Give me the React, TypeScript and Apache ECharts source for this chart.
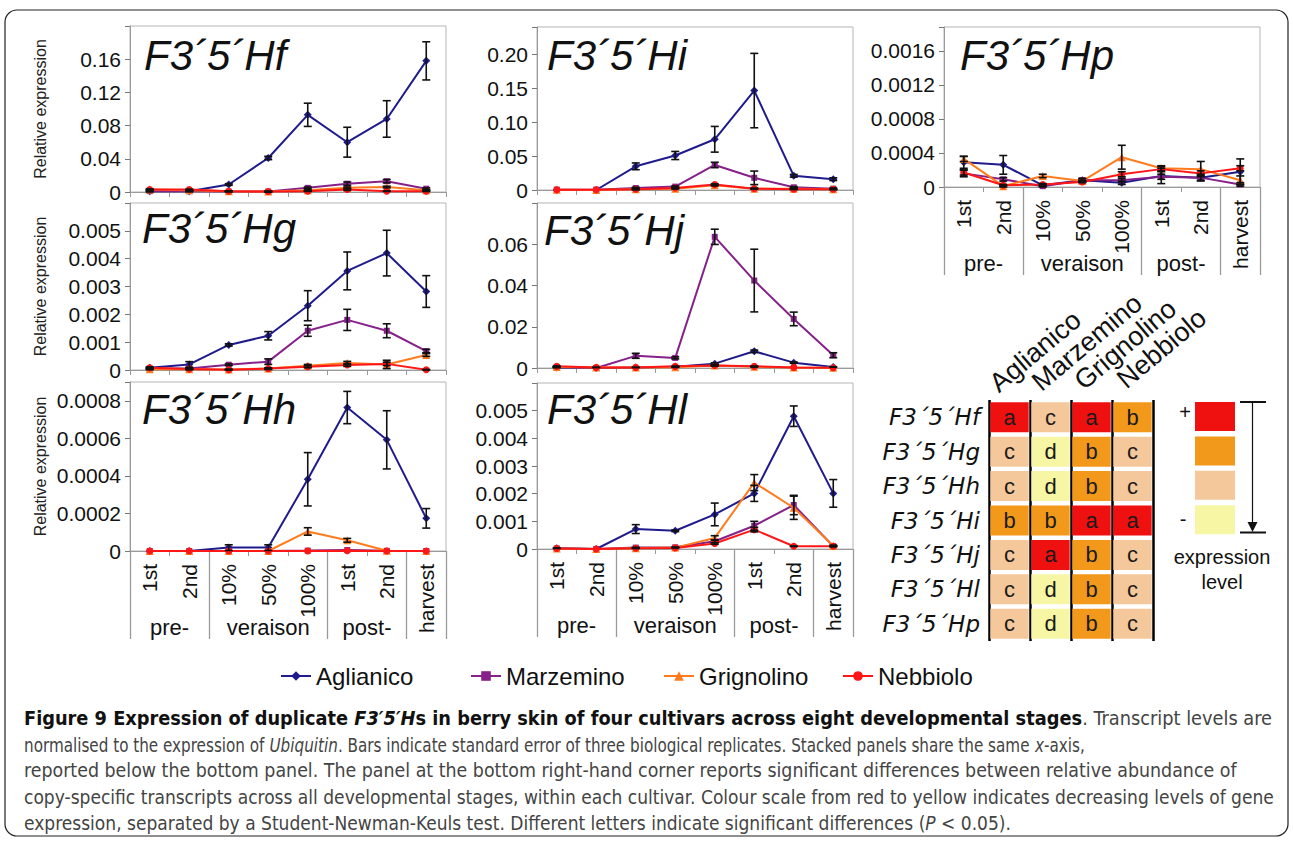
import React, { useEffect, useRef } from 'react';
import * as echarts from 'echarts';

// ---------------- categories ----------------
const STAGES = ['1st', '2nd', '10%', '50%', '100%', '1st', '2nd', 'harvest'];
const STAGE_GROUPS = ['pre-', 'veraison', 'post-', ''];
const GROUP_SIZES = [2, 3, 2, 1];
const CULTIVARS = ['Aglianico', 'Marzemino', 'Grignolino', 'Nebbiolo'];

// ---------------- F3'5'Hf ----------------
const HF_AGLIANICO = [0.0008, 0.001, 0.009, 0.041, 0.093, 0.06, 0.088, 0.158];
const HF_AGLIANICO_SE = [0.0006, 0.0006, 0.001, 0.002, 0.014, 0.018, 0.022, 0.023];
const HF_MARZEMINO = [0.001, 0.001, 0.0005, 0.0005, 0.005, 0.01, 0.013, 0.004];
const HF_MARZEMINO_SE = [0.0005, 0.0005, 0.0003, 0.0003, 0.001, 0.002, 0.002, 0.001];
const HF_GRIGNOLINO = [0.003, 0.002, 0.001, 0.0005, 0.002, 0.005, 0.006, 0.002];
const HF_GRIGNOLINO_SE = [0.0005, 0.0005, 0.0003, 0.0002, 0.0005, 0.001, 0.001, 0.0005];
const HF_NEBBIOLO = [0.003, 0.003, 0.001, 0.0005, 0.001, 0.003, 0.001, 0.001];
const HF_NEBBIOLO_SE = [0.0005, 0.0005, 0.0002, 0.0002, 0.0003, 0.001, 0.0003, 0.0003];
const HF_TICKS = ['0', '0.04', '0.08', '0.12', '0.16'];

// ---------------- F3'5'Hg ----------------
const HG_AGLIANICO = [0.00008, 0.0002, 0.0009, 0.00123, 0.00231, 0.00356, 0.0042, 0.00282];
const HG_AGLIANICO_SE = [0.00003, 0.0001, 0.00004, 0.00015, 0.00054, 0.00068, 0.00082, 0.00057];
const HG_MARZEMINO = [0.00005, 0.00005, 0.00019, 0.0003, 0.00141, 0.0018, 0.00141, 0.00068];
const HG_MARZEMINO_SE = [0.00002, 0.00002, 0.00003, 0.0001, 0.0002, 0.00038, 0.00025, 0.00006];
const HG_GRIGNOLINO = [0.00003, 0.00003, 0.00002, 0.00005, 0.00015, 0.00025, 0.0002, 0.00054];
const HG_GRIGNOLINO_SE = [0.00002, 0.00002, 0.00001, 0.00003, 0.00005, 0.00006, 0.00015, 0.00005];
const HG_NEBBIOLO = [0.00008, 0.00004, 0.00001, 0.00005, 0.00012, 0.00018, 0.00022, 0.00001];
const HG_NEBBIOLO_SE = [0.00002, 0.00002, 0.00001, 0.00002, 0.00004, 0.00005, 0.00006, 0.00001];
const HG_TICKS = ['0', '0.001', '0.002', '0.003', '0.004', '0.005'];

// ---------------- F3'5'Hh ----------------
const HH_AGLIANICO = [0, 0, 0.000018, 0.000018, 0.000382, 0.000764, 0.000592, 0.000174];
const HH_AGLIANICO_SE = [0, 0, 0.000015, 0.000015, 0.000142, 0.000086, 0.000155, 0.000052];
const HH_MARZEMINO = [0, 0, 0, 0, 0.000002, 0.000005, 0.000001, 0];
const HH_MARZEMINO_SE = [0, 0, 0, 0, 0, 0, 0, 0];
const HH_GRIGNOLINO = [0, 0, 0, 0, 0.000104, 0.000057, 0.000001, 0];
const HH_GRIGNOLINO_SE = [0, 0, 0, 0, 0.00002, 0.00001, 0, 0];
const HH_NEBBIOLO = [0, 0, 0, 0, 0, 0.000001, 0, 0];
const HH_NEBBIOLO_SE = [0, 0, 0, 0, 0, 0, 0, 0];
const HH_TICKS = ['0', '0.0002', '0.0004', '0.0006', '0.0008'];

// ---------------- F3'5'Hi ----------------
const HI_AGLIANICO = [0, 0, 0.035, 0.051, 0.075, 0.147, 0.021, 0.016];
const HI_AGLIANICO_SE = [0, 0, 0.005, 0.006, 0.019, 0.055, 0.002, 0.002];
const HI_MARZEMINO = [0.0005, 0.0005, 0.003, 0.005, 0.037, 0.018, 0.004, 0.002];
const HI_MARZEMINO_SE = [0, 0, 0.001, 0.001, 0.004, 0.01, 0.001, 0.001];
const HI_GRIGNOLINO = [0.0005, 0, 0.001, 0.002, 0.007, 0.002, 0.002, 0.001];
const HI_GRIGNOLINO_SE = [0, 0, 0.0005, 0.0005, 0.001, 0.0005, 0.0005, 0.0003];
const HI_NEBBIOLO = [0.0005, 0.0005, 0.001, 0.003, 0.008, 0.002, 0.001, 0.001];
const HI_NEBBIOLO_SE = [0, 0, 0.0005, 0.0005, 0.001, 0.0005, 0.0003, 0.0003];
const HI_TICKS = ['0', '0.05', '0.10', '0.15', '0.20'];

// ---------------- F3'5'Hj ----------------
const HJ_AGLIANICO = [0.0003, 0, 0.0003, 0.0006, 0.0021, 0.0081, 0.0026, 0.0005];
const HJ_AGLIANICO_SE = [0.0001, 0, 0.0001, 0.0001, 0.0004, 0.0006, 0.0003, 0.0001];
const HJ_MARZEMINO = [0.0005, 0, 0.0059, 0.0049, 0.0636, 0.0424, 0.0238, 0.0062];
const HJ_MARZEMINO_SE = [0.0002, 0, 0.0012, 0.0005, 0.0037, 0.0152, 0.0033, 0.0012];
const HJ_GRIGNOLINO = [0.0005, 0.0002, 0.0002, 0.0004, 0.0012, 0.0006, 0.0002, 0.0001];
const HJ_GRIGNOLINO_SE = [0.0001, 0, 0, 0.0001, 0.0002, 0.0001, 0, 0];
const HJ_NEBBIOLO = [0.0008, 0.0003, 0.0003, 0.0008, 0.0012, 0.0008, 0.0003, 0.0001];
const HJ_NEBBIOLO_SE = [0.0002, 0.0001, 0, 0.0001, 0.0002, 0.0001, 0, 0];
const HJ_TICKS = ['0', '0.02', '0.04', '0.06'];

// ---------------- F3'5'Hl ----------------
const HL_AGLIANICO = [0.00003, 0, 0.00072, 0.00066, 0.00125, 0.00201, 0.0048, 0.00201];
const HL_AGLIANICO_SE = [0.00001, 0, 0.00016, 0.00003, 0.00041, 0.00029, 0.00037, 0.0005];
const HL_MARZEMINO = [0.00002, 0, 0.00005, 0.00006, 0.00028, 0.00084, 0.00159, 0.0001];
const HL_MARZEMINO_SE = [0, 0, 0.00001, 0.00001, 0.00005, 0.00016, 0.00035, 0.00002];
const HL_GRIGNOLINO = [0.00002, 0, 0.00003, 0.00005, 0.0004, 0.0024, 0.00149, 0.00012];
const HL_GRIGNOLINO_SE = [0, 0, 0.00001, 0.00001, 0.00008, 0.00029, 0.00042, 0.00002];
const HL_NEBBIOLO = [0.00002, 0, 0.00003, 0.00004, 0.0002, 0.0007, 0.0001, 0.0001];
const HL_NEBBIOLO_SE = [0, 0, 0, 0, 0.00003, 0.00008, 0.00001, 0.00001];
const HL_TICKS = ['0', '0.001', '0.002', '0.003', '0.004', '0.005'];

// ---------------- F3'5'Hp ----------------
const HP_AGLIANICO = [0.00029, 0.00026, 0.00002, 0.00008, 0.00005, 0.00013, 0.00011, 0.00018];
const HP_AGLIANICO_SE = [0.00007, 0.00011, 0.00001, 0.00002, 0.00002, 0.00009, 0.00004, 0.00015];
const HP_MARZEMINO = [0.00016, 0.00009, 0.00001, 0.00008, 0.00008, 0.00012, 0.00011, 0.00003];
const HP_MARZEMINO_SE = [0.00004, 0.00002, 0.00001, 0.00002, 0.00002, 0.00003, 0.00003, 0.00002];
const HP_GRIGNOLINO = [0.00033, 0.00001, 0.00013, 0.00007, 0.00035, 0.00022, 0.00021, 0.00008];
const HP_GRIGNOLINO_SE = [0.00003, 0.00001, 0.00002, 0.00001, 0.00014, 0.00003, 0.00009, 0.00005];
const HP_NEBBIOLO = [0.00017, 0.00002, 0.00003, 0.00006, 0.00015, 0.00021, 0.00016, 0.00022];
const HP_NEBBIOLO_SE = [0.00003, 0.00001, 0.00001, 0.00001, 0.00003, 0.00003, 0.00003, 0.00003];
const HP_TICKS = ['0', '0.0004', '0.0008', '0.0012', '0.0016'];

// ---------------- significance table ----------------
const HEAT_GENES = ['F3´5´Hf', 'F3´5´Hg', 'F3´5´Hh', 'F3´5´Hi', 'F3´5´Hj', 'F3´5´Hl', 'F3´5´Hp'];
const HEAT_LETTERS = [
  ['a', 'c', 'a', 'b'],
  ['c', 'd', 'b', 'c'],
  ['c', 'd', 'b', 'c'],
  ['b', 'b', 'a', 'a'],
  ['c', 'a', 'b', 'c'],
  ['c', 'd', 'b', 'c'],
  ['c', 'd', 'b', 'c'],
];
const LEVELS = ['a', 'b', 'c', 'd'];

// ---------------- styles ----------------
const FONT = '"Liberation Sans", Arial, Helvetica, sans-serif';
const NARROW = '"Liberation Sans Narrow", "DejaVu Sans Condensed", "Liberation Sans", sans-serif';
const LINE_COLORS = ['#1f1b8c', '#86218a', '#ff7b1c', '#ff1616'];
const SYMBOLS = ['diamond', 'rect', 'triangle', 'circle'];
const SYMBOL_SIZES = [8, 6, 8, 7];
const LEVEL_COLORS: Record<string, string> = { a: '#ef1010', b: '#f2981a', c: '#f5c89c', d: '#f6f6a4' };
const AXIS_GRAY = '#9a9a9a';

const PANELS = [
  { title: 'F3´5´Hf', rect: [130, 26, 316, 166], max: 0.2, step: 0.04, ticks: HF_TICKS, yName: true, xLabels: false, titlePos: [144, 55],
    values: [HF_AGLIANICO, HF_MARZEMINO, HF_GRIGNOLINO, HF_NEBBIOLO], errors: [HF_AGLIANICO_SE, HF_MARZEMINO_SE, HF_GRIGNOLINO_SE, HF_NEBBIOLO_SE] },
  { title: 'F3´5´Hg', rect: [130, 203, 316, 167], max: 0.006, step: 0.001, ticks: HG_TICKS, yName: true, xLabels: false, titlePos: [142, 228],
    values: [HG_AGLIANICO, HG_MARZEMINO, HG_GRIGNOLINO, HG_NEBBIOLO], errors: [HG_AGLIANICO_SE, HG_MARZEMINO_SE, HG_GRIGNOLINO_SE, HG_NEBBIOLO_SE] },
  { title: 'F3´5´Hh', rect: [130, 382, 316, 169], max: 0.0009, step: 0.0002, ticks: HH_TICKS, yName: true, xLabels: true, titlePos: [142, 409],
    values: [HH_AGLIANICO, HH_MARZEMINO, HH_GRIGNOLINO, HH_NEBBIOLO], errors: [HH_AGLIANICO_SE, HH_MARZEMINO_SE, HH_GRIGNOLINO_SE, HH_NEBBIOLO_SE] },
  { title: 'F3´5´Hi', rect: [537, 27, 316, 163], max: 0.241, step: 0.05, ticks: HI_TICKS, yName: false, xLabels: false, titlePos: [547, 55],
    values: [HI_AGLIANICO, HI_MARZEMINO, HI_GRIGNOLINO, HI_NEBBIOLO], errors: [HI_AGLIANICO_SE, HI_MARZEMINO_SE, HI_GRIGNOLINO_SE, HI_NEBBIOLO_SE] },
  { title: 'F3´5´Hj', rect: [537, 203, 316, 165], max: 0.08, step: 0.02, ticks: HJ_TICKS, yName: false, xLabels: false, titlePos: [544, 230],
    values: [HJ_AGLIANICO, HJ_MARZEMINO, HJ_GRIGNOLINO, HJ_NEBBIOLO], errors: [HJ_AGLIANICO_SE, HJ_MARZEMINO_SE, HJ_GRIGNOLINO_SE, HJ_NEBBIOLO_SE] },
  { title: 'F3´5´Hl', rect: [537, 383, 316, 166], max: 0.006, step: 0.001, ticks: HL_TICKS, yName: false, xLabels: true, titlePos: [547, 409],
    values: [HL_AGLIANICO, HL_MARZEMINO, HL_GRIGNOLINO, HL_NEBBIOLO], errors: [HL_AGLIANICO_SE, HL_MARZEMINO_SE, HL_GRIGNOLINO_SE, HL_NEBBIOLO_SE] },
  { title: 'F3´5´Hp', rect: [944, 27, 316, 160], max: 0.00188, step: 0.0004, ticks: HP_TICKS, yName: false, xLabels: true, titlePos: [960, 55],
    values: [HP_AGLIANICO, HP_MARZEMINO, HP_GRIGNOLINO, HP_NEBBIOLO], errors: [HP_AGLIANICO_SE, HP_MARZEMINO_SE, HP_GRIGNOLINO_SE, HP_NEBBIOLO_SE] },
];

const HEAT_RECT = [989, 400, 164, 241];
const LEGEND_LEFTS = [280, 470, 663, 842];
const CAPTION_SCALE = [1.04, 0.89, 1.02, 1.0, 1.0];

const tickText = (v: number, step: number, labels: string[]) => {
  const k = Math.round(v / step);
  if (Math.abs(v - k * step) > step * 1e-6 || k < 0 || k >= labels.length) return '';
  return labels[k];
};

const errorRender = (params: any, api: any) => {
  const x = api.value(0);
  const lo = api.coord([x, api.value(1)]);
  const hi = api.coord([x, api.value(2)]);
  const cap = 4;
  const st = { stroke: '#111', lineWidth: 1.6 };
  return {
    type: 'group',
    children: [
      { type: 'line', shape: { x1: lo[0], y1: lo[1], x2: hi[0], y2: hi[1] }, style: st },
      { type: 'line', shape: { x1: lo[0] - cap, y1: lo[1], x2: lo[0] + cap, y2: lo[1] }, style: st },
      { type: 'line', shape: { x1: hi[0] - cap, y1: hi[1], x2: hi[0] + cap, y2: hi[1] }, style: st },
    ],
  };
};

function buildOption() {
  const grids: any[] = [];
  const xAxes: any[] = [];
  const yAxes: any[] = [];
  const series: any[] = [];
  const graphics: any[] = [];

  const bounds: number[] = [];
  GROUP_SIZES.reduce((acc, s) => { bounds.push(acc); return acc + s; }, 0);
  const centers = GROUP_SIZES.map((s, i) => bounds[i] + s / 2);

  PANELS.forEach((p, gi) => {
    const [l, t, w, h] = p.rect;
    grids.push({ left: l, top: t, width: w, height: h, show: true, borderColor: '#b5b5b5', borderWidth: 1, backgroundColor: 'transparent', containLabel: false, outerBoundsMode: 'none' });
    const mainX = xAxes.length;
    xAxes.push({
      type: 'category', gridIndex: gi, position: 'bottom', data: STAGES, boundaryGap: true,
      axisLine: { show: true, onZero: false, lineStyle: { color: AXIS_GRAY, width: 1 } },
      axisTick: { show: true, length: 5, interval: 0, lineStyle: { color: AXIS_GRAY } },
      axisLabel: { show: p.xLabels, interval: 0, rotate: 90, margin: 13, fontSize: 21, fontFamily: FONT, color: '#111' },
      splitLine: { show: false },
    });
    if (p.xLabels) {
      xAxes.push({
        type: 'category', gridIndex: gi, position: 'bottom', data: STAGES, boundaryGap: true,
        axisLine: { show: false }, axisLabel: { show: false }, splitLine: { show: false },
        axisTick: { show: true, length: 88, interval: (i: number) => bounds.includes(i), lineStyle: { color: AXIS_GRAY, width: 1.3 } },
      });
      xAxes.push({
        type: 'value', gridIndex: gi, position: 'bottom', min: 0, max: STAGES.length, interval: 0.5, offset: 57,
        axisLine: { show: false }, axisTick: { show: false }, splitLine: { show: false },
        axisLabel: {
          margin: 8, fontSize: 22, fontFamily: FONT, color: '#111', showMinLabel: true, showMaxLabel: true,
          formatter: (v: number) => { const k = centers.findIndex((c) => Math.abs(c - v) < 1e-6); return k >= 0 ? STAGE_GROUPS[k] : ''; },
        },
      });
    }
    yAxes.push({
      type: 'value', gridIndex: gi, position: 'left', min: 0, max: p.max, interval: p.step,
      axisLine: { show: true, lineStyle: { color: AXIS_GRAY, width: 1 } },
      axisTick: { show: true, length: 5, lineStyle: { color: '#777' } },
      splitLine: { show: false },
      axisLabel: { margin: 9, fontSize: 21, fontFamily: FONT, color: '#111', formatter: (v: number) => tickText(v, p.step, p.ticks) },
      name: p.yName ? 'Relative expression' : '', nameLocation: 'middle', nameRotate: 90, nameGap: 82,
      nameTextStyle: { fontSize: 16, fontFamily: FONT, color: '#222' },
    });

    CULTIVARS.forEach((c, ci) => {
      series.push({
        type: 'line', name: c, xAxisIndex: mainX, yAxisIndex: gi, data: p.values[ci],
        symbol: SYMBOLS[ci], symbolSize: SYMBOL_SIZES[ci], showAllSymbol: true,
        color: LINE_COLORS[ci], lineStyle: { color: LINE_COLORS[ci], width: 2 },
        itemStyle: { color: LINE_COLORS[ci] }, z: 3 + ci, silent: true,
      });
    });
    const errData: number[][] = [];
    p.values.forEach((vals, ci) => {
      vals.forEach((v, i) => {
        const e = p.errors[ci][i];
        if (e > 0) errData.push([i, v - e, v + e]);
      });
    });
    series.push({ type: 'custom', xAxisIndex: mainX, yAxisIndex: gi, data: errData, renderItem: errorRender, encode: { x: 0, y: [1, 2] }, z: 10, silent: true });

    graphics.push({
      type: 'text', x: p.titlePos[0], y: p.titlePos[1], z: 20,
      style: { text: p.title, font: `italic 42px ${FONT}`, fill: '#111', textAlign: 'left', textVerticalAlign: 'middle' },
    });
  });

  // ---- significance table ----
  const hgi = grids.length;
  const [hl, ht, hw, hh] = HEAT_RECT;
  grids.push({ left: hl, top: ht, width: hw, height: hh, show: false, containLabel: false, outerBoundsMode: 'none' });
  const hx = xAxes.length;
  xAxes.push({
    type: 'category', gridIndex: hgi, position: 'top', data: CULTIVARS,
    axisLine: { show: false }, axisTick: { show: false }, axisLabel: { show: false },
    splitLine: { show: true, interval: 0, lineStyle: { color: '#000', width: 2.5 } },
  });
  const hy = yAxes.length;
  yAxes.push({
    type: 'category', gridIndex: hgi, data: HEAT_GENES, inverse: true,
    axisLine: { show: false }, axisTick: { show: false }, splitLine: { show: false },
    axisLabel: { margin: 9, fontSize: 23, fontStyle: 'italic', fontFamily: '"DejaVu Sans", sans-serif', color: '#111' },
  });
  const cells: any[] = [];
  HEAT_LETTERS.forEach((row, r) => row.forEach((letter, c) => cells.push({ value: [c, r], letter })));
  series.push({
    type: 'custom', xAxisIndex: hx, yAxisIndex: hy, data: cells.map((d) => d.value), silent: true, z: 5,
    encode: { x: 0, y: 1 },
    renderItem: (params: any, api: any) => {
      const c = api.value(0);
      const r = api.value(1);
      const pt = api.coord([c, r]);
      const sz = api.size([1, 1]);
      const letter = cells[params.dataIndex].letter;
      return {
        type: 'group',
        children: [
          { type: 'rect', shape: { x: pt[0] - sz[0] / 2 + 1.3, y: pt[1] - sz[1] / 2 + 2.2, width: sz[0] - 2.6, height: sz[1] - 4.4 }, style: { fill: LEVEL_COLORS[letter] } },
          { type: 'text', style: { text: letter, x: pt[0], y: pt[1], textAlign: 'center', textVerticalAlign: 'middle', font: `22px ${FONT}`, fill: '#1a1a1a' } },
        ],
      };
    },
  });

  const colW = hw / CULTIVARS.length;
  CULTIVARS.forEach((c, i) => {
    graphics.push({
      type: 'text', x: hl + i * colW + 13 + i * 1.5, y: 397 - i * 1.3, rotation: (40 * Math.PI) / 180, z: 20,
      style: { text: c, font: `27px ${FONT}`, fill: '#111', textAlign: 'left', textVerticalAlign: 'bottom' },
    });
  });

  // level legend
  LEVELS.forEach((lv, i) => {
    graphics.push({ type: 'rect', shape: { x: 1195, y: 402 + i * 34.4, width: 40, height: 29 }, style: { fill: LEVEL_COLORS[lv] }, z: 5 });
  });
  graphics.push({ type: 'text', x: 1185, y: 412, style: { text: '+', font: `20px ${FONT}`, fill: '#111', textAlign: 'center', textVerticalAlign: 'middle' } });
  graphics.push({ type: 'text', x: 1183, y: 519, style: { text: '-', font: `20px ${FONT}`, fill: '#111', textAlign: 'center', textVerticalAlign: 'middle' } });
  graphics.push({ type: 'line', shape: { x1: 1240, y1: 402, x2: 1266, y2: 402 }, style: { stroke: '#111', lineWidth: 2 } });
  graphics.push({ type: 'line', shape: { x1: 1240, y1: 532.5, x2: 1266, y2: 532.5 }, style: { stroke: '#111', lineWidth: 2 } });
  graphics.push({ type: 'line', shape: { x1: 1252.5, y1: 402, x2: 1252.5, y2: 524 }, style: { stroke: '#111', lineWidth: 1.2 } });
  graphics.push({ type: 'polygon', shape: { points: [[1247.5, 522], [1257.5, 522], [1252.5, 532]] }, style: { fill: '#111' } });
  graphics.push({ type: 'text', x: 1222, y: 557, style: { text: 'expression', font: `20px ${FONT}`, fill: '#111', textAlign: 'center', textVerticalAlign: 'middle' } });
  graphics.push({ type: 'text', x: 1222, y: 582, style: { text: 'level', font: `20px ${FONT}`, fill: '#111', textAlign: 'center', textVerticalAlign: 'middle' } });

  // outer frame
  graphics.push({ type: 'rect', z: -10, shape: { x: 5, y: 10, width: 1283, height: 826, r: 12 }, style: { fill: 'none', stroke: '#222', lineWidth: 1.2 } });

  // caption
  const rich = {
    b: { fontFamily: NARROW, fontWeight: 'bold', fontSize: 19, fill: '#111' },
    bi: { fontFamily: NARROW, fontWeight: 'bold', fontStyle: 'italic', fontSize: 19, fill: '#111' },
    r: { fontFamily: NARROW, fontSize: 19, fill: '#444' },
    i: { fontFamily: NARROW, fontStyle: 'italic', fontSize: 19, fill: '#444' },
  };
  const CAPTION = [
    '{b|Figure 9 Expression of duplicate }{bi|F3′5′H}{b|s in berry skin of four cultivars across eight developmental stages}{r|. Transcript levels are}',
    '{r|normalised to the expression of }{i|Ubiquitin}{r|. Bars indicate standard error of three biological replicates. Stacked panels share the same }{i|x}{r|-axis,}',
    '{r|reported below the bottom panel. The panel at the bottom right-hand corner reports significant differences between relative abundance of}',
    '{r|copy-specific transcripts across all developmental stages, within each cultivar. Colour scale from red to yellow indicates decreasing levels of gene}',
    '{r|expression, separated by a Student-Newman-Keuls test. Different letters indicate significant differences (}{i|P}{r| < 0.05).}',
  ];
  CAPTION.forEach((line, i) => {
    graphics.push({ type: 'text', x: 24, y: 719 + i * 26, scaleX: CAPTION_SCALE[i], style: { text: line, rich, font: `19px ${NARROW}`, fill: '#444', textAlign: 'left', textVerticalAlign: 'middle' } });
  });

  const legends = CULTIVARS.map((c, i) => ({
    data: [c], left: LEGEND_LEFTS[i], top: 664, orient: 'horizontal', padding: 0, selectedMode: false,
    itemWidth: 30, itemHeight: 12, textStyle: { fontSize: 24, fontFamily: FONT, color: '#111' },
  }));

  return {
    animation: false,
    backgroundColor: '#fff',
    textStyle: { fontFamily: FONT },
    grid: grids,
    xAxis: xAxes,
    yAxis: yAxes,
    series,
    legend: legends,
    graphic: { elements: graphics },
  };
}

export default function App() {
  const ref = useRef<HTMLDivElement>(null);
  useEffect(() => {
    if (!ref.current) return;
    const chart = echarts.init(ref.current, undefined, { renderer: 'svg' });
    chart.setOption(buildOption() as any);
    return () => chart.dispose();
  }, []);
  return <div ref={ref} style={{ position: 'fixed', left: 0, top: 0, width: 1293, height: 842, background: '#fff' }} />;
}
